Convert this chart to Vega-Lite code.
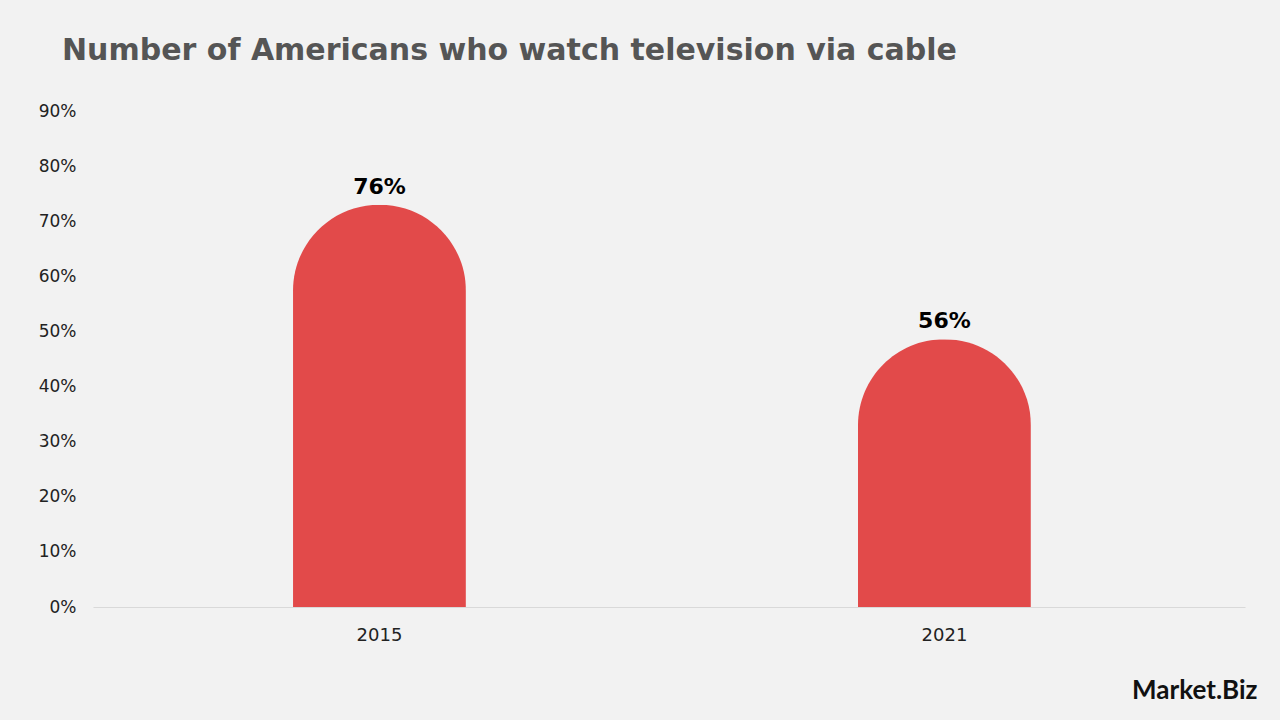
{
  "$schema": "https://vega.github.io/schema/vega-lite/v6.json",
  "autosize": {"type": "none"},
  "width": 1152,
  "height": 496,
  "padding": {"left": 93, "top": 111, "right": 35, "bottom": 113},
  "background": "#f2f2f2",
  "config": {"view": {"stroke": null}, "font": "DejaVu Sans"},
  "title": {
    "text": "Number of Americans who watch television via cable",
    "anchor": "start",
    "frame": "group",
    "dx": -31,
    "offset": 36,
    "fontSize": 30,
    "fontWeight": "bold",
    "color": "#555555",
    "font": "DejaVu Sans"
  },
  "data": {
    "values": [
      {"year": "2015", "label": "76%", "bar_top": 73},
      {"year": "2021", "label": "56%", "bar_top": 48.6}
    ]
  },
  "encoding": {
    "x": {
      "field": "year",
      "type": "nominal",
      "scale": {"paddingInner": 0, "paddingOuter": 0.0195, "align": 0.18},
      "axis": {
        "labelAngle": 0,
        "labelFontSize": 18,
        "labelColor": "#222222",
        "labelPadding": 19,
        "ticks": false,
        "domainColor": "#d9d9d9",
        "title": "Market.Biz",
        "titleFontSize": 26,
        "titleFontWeight": "bold",
        "titleColor": "#111111",
        "titleFont": "Lato",
        "titleAnchor": "end",
        "titleAlign": "right",
        "titleBaseline": "middle",
        "titleX": 1164,
        "titleY": 83
      }
    }
  },
  "layer": [
    {
      "mark": {
        "type": "bar",
        "color": "#e24a4a",
        "width": {"band": 0.306},
        "cornerRadiusTopLeft": 86,
        "cornerRadiusTopRight": 86
      },
      "encoding": {
        "y": {
          "field": "bar_top",
          "type": "quantitative",
          "scale": {"domain": [0, 90]},
          "axis": {
            "values": [0, 10, 20, 30, 40, 50, 60, 70, 80, 90],
            "labelExpr": "datum.value + '%'",
            "grid": false,
            "domain": false,
            "ticks": false,
            "labelPadding": 17,
            "labelFontSize": 17,
            "labelColor": "#222222",
            "title": null
          }
        }
      }
    },
    {
      "mark": {
        "type": "text",
        "baseline": "bottom",
        "dy": -6,
        "fontSize": 22,
        "fontWeight": "bold",
        "color": "#000000"
      },
      "encoding": {
        "y": {"field": "bar_top", "type": "quantitative"},
        "text": {"field": "label", "type": "nominal"}
      }
    }
  ]
}
